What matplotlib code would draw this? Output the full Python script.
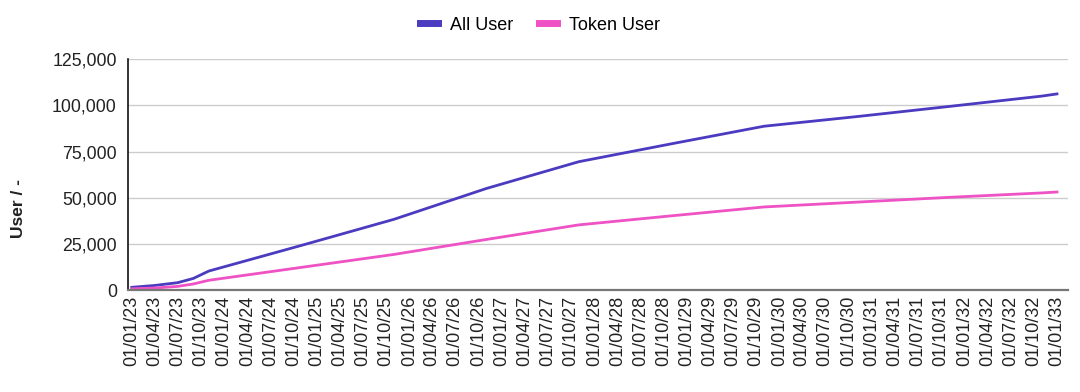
import matplotlib
matplotlib.use("Agg")
import matplotlib.pyplot as plt
import matplotlib.dates as mdates
from matplotlib.ticker import FuncFormatter
import pandas as pd

plt.rcParams["font.family"] = ["Liberation Sans", "DejaVu Sans"]

# data
dates = ["2023-01-01", "2023-04-01", "2023-07-01", "2023-09-01", "2023-11-01",
         "2024-11-01", "2025-11-01", "2026-11-01", "2027-11-01", "2028-11-01",
         "2029-11-01", "2030-11-01", "2031-11-01", "2032-11-01", "2033-01-01"]
all_user = [1500, 2500, 4000, 6300, 10300, 24200, 38300, 55000, 69500, 79200,
            88700, 93900, 99400, 105000, 106200]
token_user = [700, 1100, 2000, 3300, 5300, 12300, 19300, 27400, 35300, 40200,
              45000, 47600, 50200, 52600, 53100]
tick_dates = pd.date_range("2023-01-01", "2033-01-01", freq="QS")
y_ticks = [0, 25000, 50000, 75000, 100000, 125000]

ALL_COLOR = "#4a3bc0"
TOKEN_COLOR = "#ee52c4"

x = pd.to_datetime(dates)

fig = plt.figure(figsize=(10.8, 3.92), dpi=100)
ax = fig.add_axes([0.1185, 0.26, 0.8705, 0.589])

ax.plot(x, all_user, color=ALL_COLOR, lw=2.0, label="All User")
ax.plot(x, token_user, color=TOKEN_COLOR, lw=2.0, label="Token User")

ax.set_xlim(pd.Timestamp("2022-12-17"), pd.Timestamp("2033-02-14"))
ax.set_ylim(0, 125000)
ax.set_yticks(y_ticks)
ax.yaxis.set_major_formatter(FuncFormatter(lambda v, p: f"{int(v):,}"))
ax.set_xticks(tick_dates)
ax.xaxis.set_major_formatter(mdates.DateFormatter("%d/%m/%y"))
ax.tick_params(axis="x", rotation=90, length=0, labelsize=13, pad=4, colors="#222222")
ax.tick_params(axis="y", length=0, labelsize=12.8, pad=8, colors="#222222")

ax.grid(axis="y", color="#cccccc", lw=1.0)
ax.set_axisbelow(True)
for s in ["top", "right"]:
    ax.spines[s].set_visible(False)
ax.spines["left"].set_color("#111111")
ax.spines["left"].set_linewidth(1.2)
ax.spines["bottom"].set_color("#777777")
ax.spines["bottom"].set_linewidth(1.6)

fig.text(0.017, 1 - 209 / 392, "User / -", rotation=90, ha="center", va="center",
         fontsize=12.5, fontweight="bold", color="#222222")

leg = fig.legend(loc="center", bbox_to_anchor=(0.5, 1 - 25 / 392), ncol=2, frameon=False,
                 fontsize=13, handlelength=1.0, handletextpad=0.67, columnspacing=1.4)
for h in leg.legend_handles:
    h.set_linewidth(5)

fig.savefig("out.png", dpi=100)
